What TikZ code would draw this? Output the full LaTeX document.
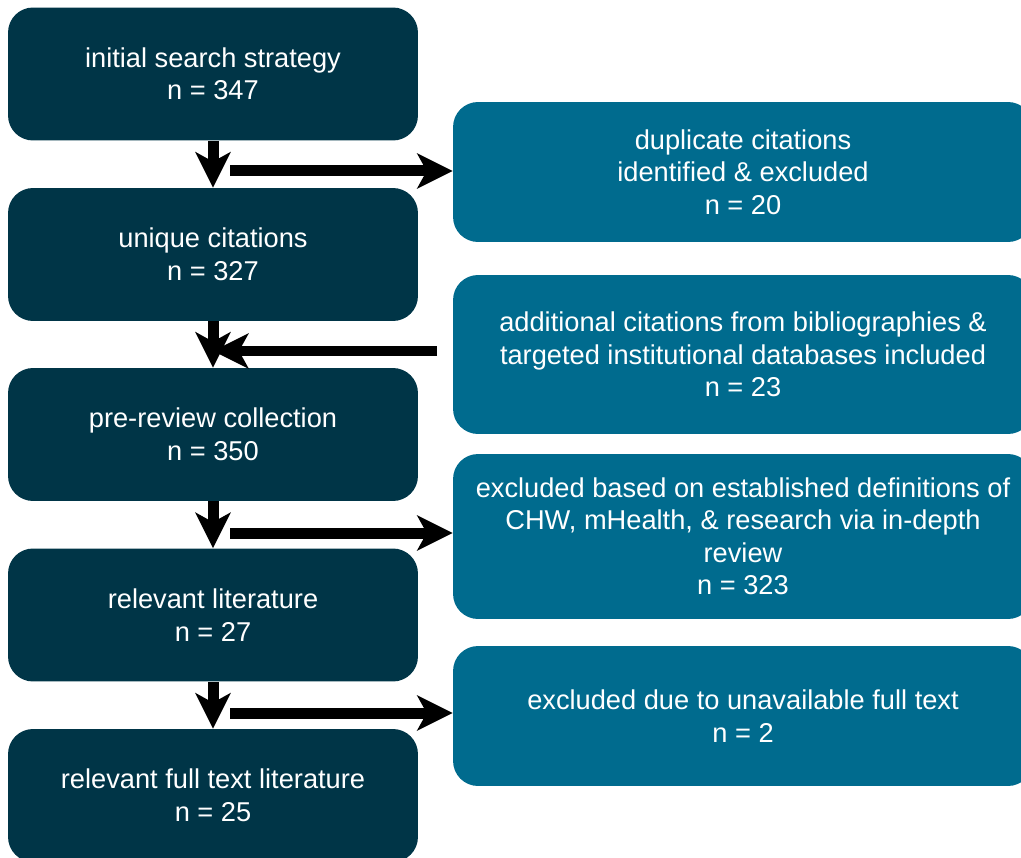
\documentclass[tikz,border=0pt]{standalone}
\usepackage{fontspec}
\setmainfont{Liberation Sans}
\usepackage{tikz}
\usetikzlibrary{arrows.meta,positioning}
\definecolor{darkbox}{RGB}{0,53,71}
\definecolor{lightbox}{RGB}{0,107,142}
\newcommand{\boxfont}{\fontsize{15.5}{18.5}\selectfont}
\tikzset{
  stageL/.style={ fill=darkbox, rounded corners=0.5cm, minimum width=8.2cm, minimum height=2.66cm, text=white, align=center, font=\boxfont }
}
\tikzset{
  stageR/.style={ fill=lightbox, rounded corners=0.5cm, minimum width=11.6cm, text=white, align=center, font=\boxfont }
}
\tikzset{
  flow/.style={ line width=0.22cm, -{Stealth[length=0.72cm, width=0.72cm, inset=0.2cm, line width=0pt]} }
}

\begin{document}
\begin{tikzpicture}[x=0.02cm, y=-0.02cm]
      \useasboundingbox (0, 0) rectangle (1021, 858);
      \clip (0, 0) rectangle (1021, 858);
      \node[stageL] (init) at (213, 74) {initial search strategy\\n = 347};
      \node[stageL] (uniq) at (213, 254.5) {unique citations\\n = 327};
      \node[stageL] (pre) at (213, 434.5) {pre-review collection\\n = 350};
      \node[stageL] (rel) at (213, 615) {relevant literature\\n = 27};
      \node[stageL] (full) at (213, 795.5) {relevant full text literature\\n = 25};
      \node[stageR, minimum height=2.8cm] (dup) at (743, 172) {duplicate citations\\identified \& excluded\\n = 20};
      \node[stageR, minimum height=3.18cm] (add) at (743, 354.5) {additional citations from bibliographies \&\\targeted institutional databases included\\n = 23};
      \node[stageR, minimum height=3.3cm] (excl) at (743, 536.5) {excluded based on established definitions of\\CHW, mHealth, \& research via in-depth\\review\\n = 323};
      \node[stageR, minimum height=2.8cm] (unav) at (743, 716) {excluded due to unavailable full text\\n = 2};
      \coordinate (s1) at (230, 171);
      \coordinate (s2) at (437, 351);
      \coordinate (s3) at (230, 533);
      \coordinate (s4) at (230, 713);
      \draw[flow] (init) -- (uniq);
      \draw[flow] (uniq) -- (pre);
      \draw[flow] (pre) -- (rel);
      \draw[flow] (rel) -- (full);
      \draw[flow] (s1) -- (s1 -| dup.west);
      \draw[flow] (s2) -- (s2 -| uniq.south);
      \draw[flow] (s3) -- (s3 -| excl.west);
      \draw[flow] (s4) -- (s4 -| unav.west);
    \end{tikzpicture}
\end{document}
